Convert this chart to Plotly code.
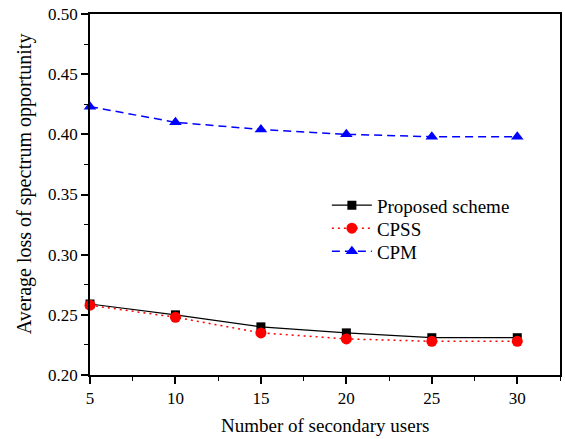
import plotly.graph_objects as go

users = [5, 10, 15, 20, 25, 30]
proposed = [0.259, 0.250, 0.240, 0.235, 0.231, 0.231]
cpss = [0.258, 0.248, 0.235, 0.230, 0.228, 0.228]
cpm = [0.423, 0.410, 0.404, 0.400, 0.398, 0.398]

x_ticks = [5, 10, 15, 20, 25, 30]
y_ticks = [0.20, 0.25, 0.30, 0.35, 0.40, 0.45, 0.50]
y_ticklabels = ["0.20", "0.25", "0.30", "0.35", "0.40", "0.45", "0.50"]

FONT = "Liberation Serif, Times New Roman, serif"

fig = go.Figure()
fig.add_trace(go.Scatter(
    x=users, y=proposed, name="Proposed scheme", mode="lines+markers",
    line=dict(color="black", width=1.2),
    marker=dict(symbol="square", size=9, color="black"),
    cliponaxis=False, legend="legend"))
fig.add_trace(go.Scatter(
    x=users, y=cpss, name="CPSS", mode="lines+markers",
    line=dict(color="red", width=1.5, dash="2px,4px"),
    marker=dict(symbol="circle", size=11, color="red"),
    cliponaxis=False, legend="legend2"))
fig.add_trace(go.Scatter(
    x=users, y=cpm, name="CPM", mode="lines+markers",
    line=dict(color="blue", width=1.5, dash="8px,5px"),
    marker=dict(symbol="triangle-up", size=11, color="blue"),
    cliponaxis=False, legend="legend3"))

axis_common = dict(
    showline=True, linecolor="black", linewidth=1.5, mirror=True,
    ticks="outside", ticklen=7, tickwidth=1.5, tickcolor="black",
    showgrid=False, zeroline=False,
    tickfont=dict(family=FONT, size=17, color="black"),
)

fig.update_xaxes(
    range=[5, 32.5], tickvals=x_ticks,
    minor=dict(ticks="outside", ticklen=4, tickwidth=1.2, tickcolor="black", dtick=2.5, tick0=5, showgrid=False),
    **axis_common)
fig.update_yaxes(
    range=[0.20, 0.50], tickvals=y_ticks, ticktext=y_ticklabels,
    minor=dict(ticks="outside", ticklen=4, tickwidth=1.2, tickcolor="black", dtick=0.025, tick0=0.2, showgrid=False),
    **axis_common)

fig.add_annotation(text="Number of secondary users", xref="paper", yref="paper",
                   x=(326 - 90) / 472, y=-(425 - 375) / 361, xanchor="center", yanchor="middle",
                   showarrow=False, font=dict(family=FONT, size=19, color="black"))
fig.add_annotation(text="Average loss of spectrum opportunity", xref="paper", yref="paper",
                   x=-(90 - 25) / 472, y=1 - (184 - 14) / 361, xanchor="center", yanchor="middle",
                   textangle=-90, showarrow=False, font=dict(family=FONT, size=20, color="black"))

legend_common = dict(x=0.504, xanchor="left", yanchor="top",
                     bgcolor="rgba(0,0,0,0)", font=dict(family=FONT, size=19, color="black"),
                     itemwidth=40)

fig.update_layout(
    width=565, height=439,
    margin=dict(l=90, r=3, t=14, b=64),
    plot_bgcolor="white", paper_bgcolor="white",
    font=dict(family=FONT, size=16, color="black"),
    legend=dict(y=1 - (186.3 - 14) / 361, **legend_common),
    legend2=dict(y=1 - (209.3 - 14) / 361, **legend_common),
    legend3=dict(y=1 - (232.3 - 14) / 361, **legend_common),
    showlegend=True,
)

fig.write_html("out.html")
